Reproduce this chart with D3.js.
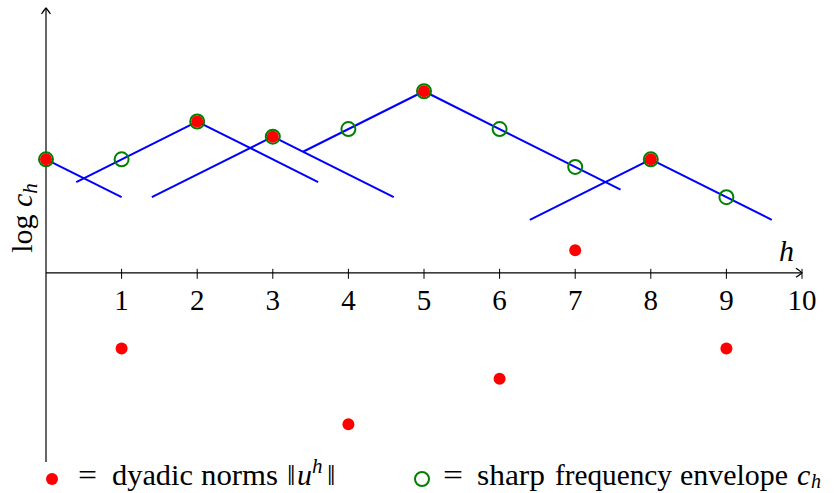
<!DOCTYPE html>
<html>
<head>
<meta charset="utf-8">
<script src="https://cdn.jsdelivr.net/npm/d3@7"></script>
<style>
  body { margin: 0; background: #fff; }
  text { font-family: "Liberation Serif", "DejaVu Serif", serif; fill: #000; }
  .axis-line { stroke: #000; stroke-width: 1.2; fill: none; }
  .tick-mark { stroke: #000; stroke-width: 1; }
  .envelope-line { stroke: #0000ff; stroke-width: 2; fill: none; }
  .envelope-pt { fill: none; stroke: #008000; stroke-width: 2; }
  .norm-pt { fill: #ff0000; }
</style>
</head>
<body>
<div id="chart"></div>
<script>
// data
const hValues = [0, 1, 2, 3, 4, 5, 6, 7, 8, 9];
const dyadicNorms = [1.5, -1.0, 2.0, 1.8, -2.0, 2.4, -1.4, 0.3, 1.5, -1.0];
const envelopeValues = [1.5, 1.5, 2.0, 1.8, 1.9, 2.4, 1.9, 1.4, 1.5, 1.0];
// blue tents around the peaks, as [h, value] points
const tentLines = [
  [[0, 1.5], [1, 1.0]],
  [[0.4, 1.2], [2, 2.0], [3.6, 1.2]],
  [[1.4, 1.0], [3, 1.8], [4.6, 1.0]],
  [[3.4, 1.6], [5, 2.4], [7.6, 1.1]],
  [[6.4, 0.7], [8, 1.5], [9.6, 0.7]]
];
const tickLabels = [1, 2, 3, 4, 5, 6, 7, 8, 9, 10];

const width = 835;
const height = 493;

const svg = d3.select('#chart').append('svg')
  .attr('width', width)
  .attr('height', height);

const x = d3.scaleLinear().domain([0, 10]).range([46, 802]);
const y = d3.scaleLinear().domain([-2.5, 3.5]).range([462, 8]);

// arrow head like the tikz "to" tip
const arrowPath = 'M -6 -4.5 Q -1 -1 0 0 Q -1 1 -6 4.5';

// axes
svg.append('line').attr('class', 'axis-line')
  .attr('x1', x(0)).attr('x2', x(10))
  .attr('y1', y(0)).attr('y2', y(0));
svg.append('path').attr('class', 'axis-line')
  .attr('d', arrowPath)
  .attr('transform', `translate(${x(10)},${y(0)})`);

svg.append('line').attr('class', 'axis-line')
  .attr('x1', x(0)).attr('x2', x(0))
  .attr('y1', y(-2.5)).attr('y2', y(3.5));
svg.append('path').attr('class', 'axis-line')
  .attr('d', arrowPath)
  .attr('transform', `translate(${x(0)},${y(3.5)}) rotate(-90)`);

const ticks = svg.selectAll('.tick')
  .data(tickLabels)
  .enter()
  .append('g')
  .attr('class', 'tick')
  .attr('transform', d => `translate(${x(d)},${y(0)})`);
ticks.append('line').attr('class', 'tick-mark')
  .attr('x1', 0).attr('x2', 0)
  .attr('y1', -4).attr('y2', 6);
ticks.append('text')
  .attr('y', 37)
  .attr('text-anchor', 'middle')
  .style('font-size', '29px')
  .text(d => d);

// axis labels
svg.append('text')
  .attr('x', 779).attr('y', 261)
  .style('font-size', '30px')
  .style('font-style', 'italic')
  .text('h');

const yLabel = svg.append('text')
  .attr('transform', `translate(32, 218) rotate(-90)`)
  .attr('text-anchor', 'middle')
  .style('font-size', '30px');
yLabel.append('tspan').text('log ');
yLabel.append('tspan').style('font-style', 'italic').text('c');
yLabel.append('tspan').style('font-style', 'italic').style('font-size', '21px')
  .attr('dy', 5).text('h');

// tent lines
const line = d3.line()
  .x(d => x(d[0]))
  .y(d => y(d[1]));
svg.selectAll('.envelope-line')
  .data(tentLines)
  .enter()
  .append('path')
  .attr('class', 'envelope-line')
  .attr('d', line);

// envelope circles
svg.selectAll('.envelope-pt')
  .data(hValues)
  .enter()
  .append('circle')
  .attr('class', 'envelope-pt')
  .attr('cx', d => x(d))
  .attr('cy', (d, i) => y(envelopeValues[i]))
  .attr('r', 7);

// dyadic norm dots
svg.selectAll('.norm-pt')
  .data(hValues)
  .enter()
  .append('circle')
  .attr('class', 'norm-pt')
  .attr('cx', d => x(d))
  .attr('cy', (d, i) => y(dyadicNorms[i]))
  .attr('r', 6);

// legend, one text per word so each can be stretched to the TeX width
const legendY = 479;
const base = legendY + 6;
const legend = svg.append('g').attr('class', 'legend');
const addWord = (str, xPos, len) => {
  const t = legend.append('text')
    .attr('x', xPos)
    .attr('y', base)
    .style('font-size', '30px')
    .text(str);
  if (len) {
    t.attr('textLength', len).attr('lengthAdjust', 'spacingAndGlyphs');
  }
  return t;
};

legend.append('circle').attr('class', 'norm-pt')
  .attr('cx', 52).attr('cy', legendY).attr('r', 6);
addWord('=', 78, 19);
addWord('dyadic', 112, 81);
addWord('norms', 201, 77);
addWord('\u2016', 287);
addWord('u', 297).style('font-style', 'italic');
addWord('h', 312).style('font-style', 'italic').style('font-size', '21px')
  .attr('y', base - 12);
addWord('\u2016', 327);

legend.append('circle').attr('class', 'envelope-pt')
  .attr('cx', 422).attr('cy', legendY).attr('r', 7);
addWord('=', 443, 20);
addWord('sharp', 477, 68);
addWord('frequency', 555, 117);
addWord('envelope', 680, 108);
addWord('c', 797).style('font-style', 'italic');
addWord('h', 811).style('font-style', 'italic').style('font-size', '20px')
  .attr('y', base + 3);
</script>
</body>
</html>
